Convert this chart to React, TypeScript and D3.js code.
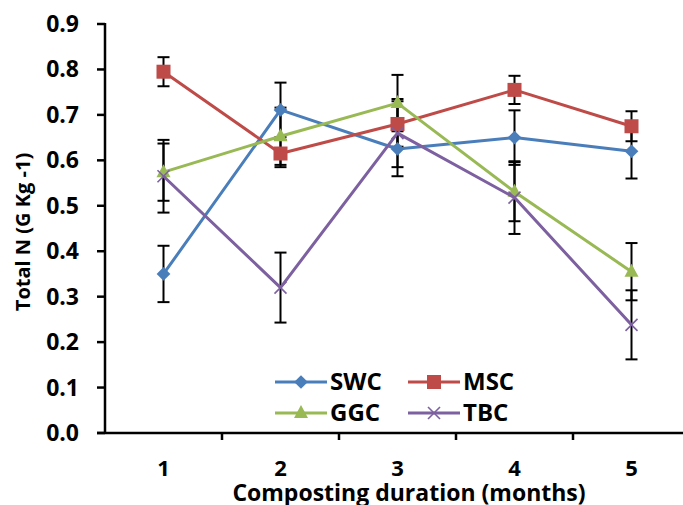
import React from "react";
import * as d3 from "d3";

const months = [1, 2, 3, 4, 5];
const yTicks = [0, 0.1, 0.2, 0.3, 0.4, 0.5, 0.6, 0.7, 0.8, 0.9];

const swc = [0.35, 0.711, 0.625, 0.65, 0.62];
const swcErr = [0.062, 0.06, 0.06, 0.06, 0.06];
const msc = [0.795, 0.615, 0.68, 0.755, 0.675];
const mscErr = [0.032, 0.03, 0.05, 0.031, 0.033];
const ggc = [0.574, 0.653, 0.726, 0.531, 0.355];
const ggcErr = [0.063, 0.063, 0.062, 0.065, 0.063];
const tbc = [0.565, 0.32, 0.66, 0.518, 0.238];
const tbcErr = [0.08, 0.077, 0.075, 0.08, 0.076];

const seriesNames = ["SWC", "MSC", "GGC", "TBC"];
const seriesColors = ["#4A7EBB", "#BE4B48", "#98B954", "#7D60A0"];
const seriesShapes = ["diamond", "square", "triangle", "x"];

const series = [
  { name: seriesNames[0], values: swc, err: swcErr, color: seriesColors[0], shape: seriesShapes[0] },
  { name: seriesNames[1], values: msc, err: mscErr, color: seriesColors[1], shape: seriesShapes[1] },
  { name: seriesNames[2], values: ggc, err: ggcErr, color: seriesColors[2], shape: seriesShapes[2] },
  { name: seriesNames[3], values: tbc, err: tbcErr, color: seriesColors[3], shape: seriesShapes[3] },
];

const FONT = "'Open Sans', sans-serif";

function Marker({ shape, x, y, color }: { shape: string; x: number; y: number; color: string }) {
  if (shape === "diamond") {
    const p = d3.symbol(d3.symbolDiamond2, 120)();
    return <path d={p!} transform={`translate(${x},${y})`} fill={color} />;
  }
  if (shape === "square") {
    return <rect x={x - 7} y={y - 7} width={14} height={14} fill={color} />;
  }
  if (shape === "triangle") {
    return <path d={`M${x},${y - 8}L${x + 7},${y + 5}L${x - 7},${y + 5}Z`} fill={color} />;
  }
  return (
    <g stroke={color} strokeWidth={1.6}>
      <line x1={x - 6} y1={y - 6} x2={x + 6} y2={y + 6} />
      <line x1={x - 6} y1={y + 6} x2={x + 6} y2={y - 6} />
    </g>
  );
}

export default function App() {
  const W = 683, H = 505;
  const left = 105, top = 24, bottom = 433;
  const band = 117;
  const x = d3.scaleBand<number>().domain(months).range([left, left + band * months.length]);
  const y = d3.scaleLinear().domain([0, 0.9]).range([bottom, top]);
  const cx = (m: number) => (x(m) as number) + x.bandwidth() / 2;
  const line = d3.line<number>().x((_, i) => cx(months[i])).y((v) => y(v));

  const legendItems = [
    { s: series[0], lx: 275, ly: 382 },
    { s: series[1], lx: 408, ly: 382 },
    { s: series[2], lx: 275, ly: 413 },
    { s: series[3], lx: 408, ly: 413 },
  ];

  return (
    <svg width={W} height={H} style={{ position: "absolute", left: 0, top: 0, background: "#fff" }} fontFamily={FONT}>
      {/* y axis */}
      <line x1={left} y1={top - 1} x2={left} y2={bottom + 1} stroke="#000" strokeWidth={2.5} />
      {yTicks.map((t) => (
        <g key={t}>
          <line x1={left - 8} x2={left} y1={y(t)} y2={y(t)} stroke="#000" strokeWidth={2.5} />
          <text x={79} y={y(t) + 8} textAnchor="end" fontSize={23} fontWeight={700} fill="#000">
            {t.toFixed(1)}
          </text>
        </g>
      ))}
      {/* x axis */}
      <line x1={left - 8} y1={bottom} x2={W} y2={bottom} stroke="#000" strokeWidth={2.5} />
      {months.map((m, i) => (
        <g key={m}>
          {i > 0 && (
            <line x1={x(m) as number} x2={x(m) as number} y1={bottom} y2={bottom + 7} stroke="#000" strokeWidth={2.5} />
          )}
          <text x={cx(m)} y={476} textAnchor="middle" fontSize={22} fontWeight={700} fill="#000">
            {m}
          </text>
        </g>
      ))}
      <text x={409} y={501} textAnchor="middle" fontSize={23} fontWeight={700} fill="#000">
        Composting duration (months)
      </text>
      <text
        transform={`translate(30,232) rotate(-90)`}
        textAnchor="middle"
        fontSize={20}
        fontWeight={700}
        fill="#000"
      >
        Total N (G Kg -1)
      </text>

      {/* error bars */}
      {series.map((s) =>
        s.values.map((v, i) => {
          const xx = cx(months[i]);
          const y1 = y(v + s.err[i]);
          const y2 = y(v - s.err[i]);
          return (
            <g key={s.name + i} stroke="#000" strokeWidth={2}>
              <line x1={xx} x2={xx} y1={y1} y2={y2} />
              <line x1={xx - 6} x2={xx + 6} y1={y1} y2={y1} />
              <line x1={xx - 6} x2={xx + 6} y1={y2} y2={y2} />
            </g>
          );
        })
      )}

      {/* lines */}
      {series.map((s) => (
        <g key={s.name}>
          <path d={line(s.values)!} fill="none" stroke={s.color} strokeWidth={3} strokeLinejoin="round" />
          {s.values.map((v, i) => (
            <Marker key={i} shape={s.shape} x={cx(months[i])} y={y(v)} color={s.color} />
          ))}
        </g>
      ))}

      {/* legend */}
      {legendItems.map(({ s, lx, ly }) => (
        <g key={s.name}>
          <line x1={lx} x2={lx + 52} y1={ly} y2={ly} stroke={s.color} strokeWidth={3} />
          <Marker shape={s.shape} x={lx + 26} y={ly} color={s.color} />
          <text x={lx + 55} y={ly + 8} fontSize={24} fontWeight={700} fill="#000">
            {s.name}
          </text>
        </g>
      ))}
    </svg>
  );
}
